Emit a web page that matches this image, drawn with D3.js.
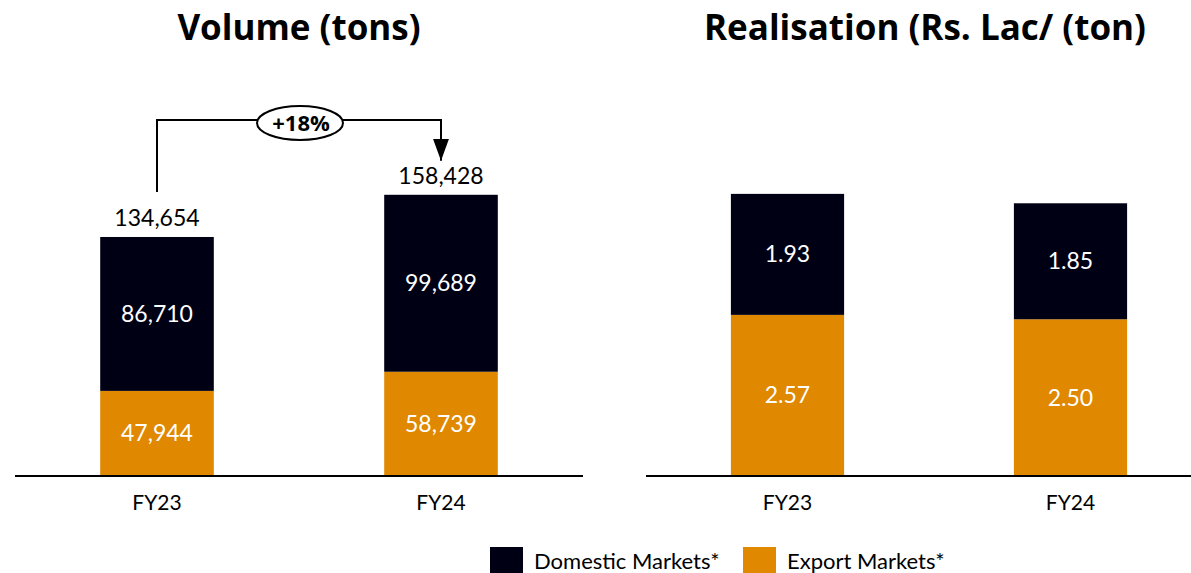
<!DOCTYPE html>
<html>
<head>
<meta charset="utf-8">
<script src="https://cdn.jsdelivr.net/npm/d3@7"></script>
<style>
  body { margin: 0; background: #fff; }
  text { font-family: Lato, "Open Sans", sans-serif; }
  text.title, text.badge { font-family: "Open Sans", Lato, sans-serif; }
</style>
</head>
<body>
<div id="chart"></div>
<script>
// data
var years = ["FY23", "FY24"];
var volDomestic = [86710, 99689];
var volExport = [47944, 58739];
var volTotal = [134654, 158428];
var realDomestic = [1.93, 1.85];
var realExport = [2.57, 2.50];
var growthLabel = "+18%";
var seriesNames = ["Domestic Markets*", "Export Markets*"];

var colDomestic = "#000014",
    colExport = "#e08800";

var width = 1191, height = 573;
var svg = d3.select("#chart").append("svg")
    .attr("width", width)
    .attr("height", height);

var baseY = 476;

// draw one stacked panel
function panel(opts) {
    var x = d3.scaleBand()
        .domain(years)
        .range(opts.xRange)
        .paddingInner(0.6)
        .paddingOuter(0.3);
    var y = d3.scaleLinear()
        .domain(opts.yDomain)
        .range([baseY, baseY - 284]);

    var g = svg.append("g");

    var rows = years.map(function(yr, i) {
        return { year: yr, exp: opts.exp[i], dom: opts.dom[i] };
    });

    // export (bottom)
    g.selectAll("rect.exp").data(rows).enter().append("rect")
        .attr("class", "exp")
        .attr("x", function(d) { return x(d.year); })
        .attr("width", x.bandwidth())
        .attr("y", function(d) { return y(d.exp); })
        .attr("height", function(d) { return baseY - y(d.exp); })
        .attr("fill", colExport);

    // domestic (top)
    g.selectAll("rect.dom").data(rows).enter().append("rect")
        .attr("class", "dom")
        .attr("x", function(d) { return x(d.year); })
        .attr("width", x.bandwidth())
        .attr("y", function(d) { return y(d.exp + d.dom); })
        .attr("height", function(d) { return y(d.exp) - y(d.exp + d.dom); })
        .attr("fill", colDomestic);

    // segment labels
    g.selectAll("text.lexp").data(rows).enter().append("text")
        .attr("x", function(d) { return x(d.year) + x.bandwidth() / 2; })
        .attr("y", function(d) { return (baseY + y(d.exp)) / 2 + 8; })
        .attr("text-anchor", "middle")
        .attr("font-size", "23px")
        .attr("fill", "#fff")
        .text(function(d) { return opts.fmt(d.exp); });

    g.selectAll("text.ldom").data(rows).enter().append("text")
        .attr("x", function(d) { return x(d.year) + x.bandwidth() / 2; })
        .attr("y", function(d) { return (y(d.exp) + y(d.exp + d.dom)) / 2 + 8; })
        .attr("text-anchor", "middle")
        .attr("font-size", "23px")
        .attr("fill", "#fff")
        .text(function(d) { return opts.fmt(d.dom); });

    // baseline
    g.append("line")
        .attr("x1", opts.lineRange[0]).attr("x2", opts.lineRange[1])
        .attr("y1", baseY).attr("y2", baseY)
        .attr("stroke", "#000").attr("stroke-width", 2);

    // category labels
    g.selectAll("text.cat").data(years).enter().append("text")
        .attr("x", function(d) { return x(d) + x.bandwidth() / 2; })
        .attr("y", 510)
        .attr("text-anchor", "middle")
        .attr("font-size", "21px")
        .attr("fill", "#000")
        .text(function(d) { return d; });

    // title
    g.append("text")
        .attr("class", "title")
        .attr("x", opts.titleX)
        .attr("y", 40)
        .attr("text-anchor", "middle")
        .attr("font-size", "35px")
        .attr("font-weight", "bold")
        .text(opts.title);

    return { x: x, y: y, g: g, rows: rows };
}

var left = panel({
    xRange: [15, 583],
    lineRange: [15, 583],
    yDomain: [0, 160000],
    exp: volExport, dom: volDomestic,
    fmt: d3.format(","),
    title: "Volume (tons)",
    titleX: 299
});

var right = panel({
    xRange: [646, 1212],
    lineRange: [646, 1191],
    yDomain: [0, 4.53],
    exp: realExport, dom: realDomestic,
    fmt: d3.format(".2f"),
    title: "Realisation (Rs. Lac/ (ton)",
    titleX: 925
});

// totals above volume bars
left.g.selectAll("text.tot").data(years).enter().append("text")
    .attr("x", function(d) { return left.x(d) + left.x.bandwidth() / 2; })
    .attr("y", function(d, i) { return left.y(volTotal[i]) - 11; })
    .attr("text-anchor", "middle")
    .attr("font-size", "23px")
    .attr("fill", "#000")
    .text(function(d, i) { return d3.format(",")(volTotal[i]); });

// growth connector
var cx0 = left.x(years[0]) + left.x.bandwidth() / 2,
    cx1 = left.x(years[1]) + left.x.bandwidth() / 2,
    topY = 120;
var y0 = left.y(volTotal[0]) - 45,
    y1 = left.y(volTotal[1]) - 34;

svg.append("defs").append("marker")
    .attr("id", "arrow")
    .attr("viewBox", "0 0 10 10")
    .attr("refX", 10).attr("refY", 5)
    .attr("markerWidth", 22).attr("markerHeight", 16)
    .attr("markerUnits", "userSpaceOnUse")
    .attr("orient", "auto")
    .attr("preserveAspectRatio", "none")
    .append("path").attr("d", "M0,0L10,5L0,10Z").attr("fill", "#000");

svg.append("path")
    .attr("d", "M" + cx0 + "," + y0 + "V" + topY + "H" + cx1 + "V" + y1)
    .attr("fill", "none")
    .attr("stroke", "#000")
    .attr("stroke-width", 2)
    .attr("marker-end", "url(#arrow)");

var ex = 300;
svg.append("ellipse")
    .attr("cx", ex).attr("cy", 123)
    .attr("rx", 43).attr("ry", 17)
    .attr("fill", "#fff").attr("stroke", "#000").attr("stroke-width", 2);
svg.append("text")
    .attr("class", "badge")
    .attr("x", ex + 1).attr("y", 131)
    .attr("text-anchor", "middle")
    .attr("font-size", "22px")
    .attr("font-weight", "bold")
    .text(growthLabel);

// legend
var legend = svg.append("g").attr("transform", "translate(490,547)");
var legX = [0, 253];
var legCol = [colDomestic, colExport];
legend.selectAll("rect").data(seriesNames).enter().append("rect")
    .attr("x", function(d, i) { return legX[i]; })
    .attr("y", 0).attr("width", 33).attr("height", 26)
    .attr("fill", function(d, i) { return legCol[i]; });
legend.selectAll("text").data(seriesNames).enter().append("text")
    .attr("x", function(d, i) { return legX[i] + 44; })
    .attr("y", 22)
    .attr("font-size", "22px")
    .attr("fill", "#000")
    .text(function(d) { return d; });
</script>
</body>
</html>
